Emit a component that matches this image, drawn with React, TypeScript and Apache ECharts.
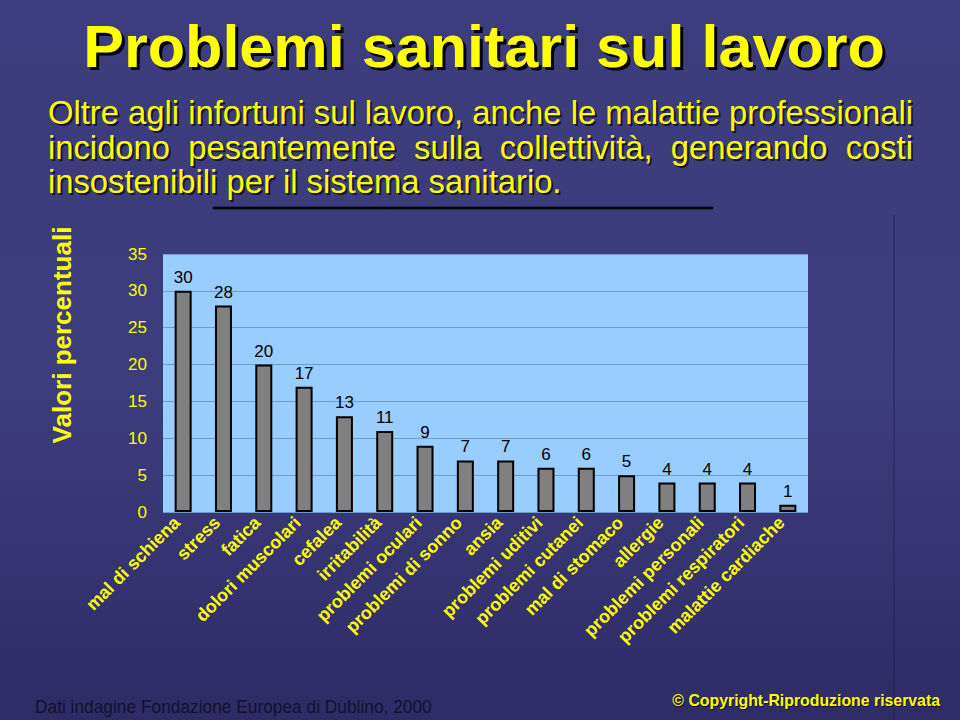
import React, { useEffect, useRef } from "react";
import * as echarts from "echarts";

const categories = [
  "mal di schiena", "stress", "fatica", "dolori muscolari", "cefalea", "irritabilità",
  "problemi oculari", "problemi di sonno", "ansia", "problemi uditivi", "problemi cutanei",
  "mal di stomaco", "allergie", "problemi personali", "problemi respiratori", "malattie cardiache",
];
const values = [30, 28, 20, 17, 13, 11, 9, 7, 7, 6, 6, 5, 4, 4, 4, 1];
const yMin = 0;
const yMax = 35;
const yStep = 5;

const titleText = "Problemi sanitari sul lavoro";
const subtitleLines = [
  "Oltre agli infortuni sul lavoro, anche le malattie professionali",
  "incidono pesantemente sulla collettività, generando costi",
  "insostenibili per il sistema sanitario.",
];
const yAxisTitle = "Valori percentuali";
const sourceNote = "Dati indagine Fondazione Europea di Dublino, 2000";
const copyrightNote = "© Copyright-Riproduzione riservata";

const FAMILY = '"Liberation Sans", Arial, Helvetica, sans-serif';
const YELLOW = "#ffff00";

function measure(text: string, font: string): number {
  const c = document.createElement("canvas").getContext("2d")!;
  c.font = font;
  return c.measureText(text).width;
}

function shadowText(
  text: string, x: number, y: number, size: number, weight: string, fill: string,
  scaleX: number, align: string, shadow: number, shadowColor: string
): any[] {
  const base = (dx: number, dy: number, color: string) => ({
    type: "text", x: x + dx, y: y + dy, scaleX, silent: true,
    style: {
      text, fill: color, fontSize: size, fontWeight: weight, fontFamily: FAMILY,
      align, verticalAlign: "middle", textAlign: align, textVerticalAlign: "middle",
    },
  });
  const out: any[] = [];
  if (shadow) out.push(base(shadow, shadow, shadowColor));
  out.push(base(0, 0, fill));
  return out;
}

function buildGraphics(): any[] {
  const g: any[] = [];
  // Title
  const tSize = 60;
  const tW = measure(titleText, `bold ${tSize}px ${FAMILY}`);
  const tScale = 802 / tW;
  g.push(...shadowText(titleText, 484, 46, tSize, "bold", YELLOW, tScale, "center", 3, "#000000"));

  // Subtitle (justified)
  const sSize = 34;
  const sFont = `${sSize}px ${FAMILY}`;
  const left = 48;
  const target = 865;
  const sScale = target / measure(subtitleLines[0], sFont);
  const spaceW = measure(" ", sFont) * sScale;
  const ys = [112, 147, 181];
  subtitleLines.forEach((line, li) => {
    const words = line.split(" ");
    const widths = words.map((w) => measure(w, sFont) * sScale);
    const sum = widths.reduce((a, b) => a + b, 0);
    const gap = li < 2 ? (target - sum) / (words.length - 1) : spaceW;
    let x = left;
    words.forEach((w, i) => {
      g.push(...shadowText(w, x, ys[li], sSize, "normal", YELLOW, sScale, "left", 2, "#15152a"));
      x += widths[i] + gap;
    });
  });

  // Rule under subtitle
  g.push({
    type: "line", silent: true,
    shape: { x1: 213, y1: 208, x2: 713, y2: 208 },
    style: { stroke: "#000000", lineWidth: 2.5 },
  });

  // Vertical axis title
  g.push({
    type: "text", x: 62, y: 335, rotation: Math.PI / 2, silent: true,
    style: {
      text: yAxisTitle, fill: YELLOW, fontSize: 26, fontWeight: "bold", fontFamily: FAMILY,
      align: "center", verticalAlign: "middle", textAlign: "center", textVerticalAlign: "middle",
    },
  });

  // Faint frame line
  g.push({
    type: "line", silent: true,
    shape: { x1: 894, y1: 215, x2: 894, y2: 720 },
    style: { stroke: "rgba(30,28,70,0.7)", lineWidth: 1 },
  });

  // Footer
  const fSize = 18;
  const fScale = 397 / measure(sourceNote, `${fSize}px ${FAMILY}`);
  g.push(...shadowText(sourceNote, 35, 707, fSize, "normal", "#13112c", fScale, "left", 0, ""));
  const cSize = 16;
  const cScale = 268 / measure(copyrightNote, `bold ${cSize}px ${FAMILY}`);
  g.push(...shadowText(copyrightNote, 940, 700, cSize, "bold", YELLOW, cScale, "right", 1, "#111122"));
  return g;
}

export default function App() {
  const ref = useRef<HTMLDivElement>(null);
  useEffect(() => {
    if (!ref.current) return;
    const chart = echarts.init(ref.current, null, { renderer: "svg" });
    chart.setOption({
      animation: false,
      backgroundColor: {
        type: "linear", x: 0, y: 0, x2: 0, y2: 1,
        colorStops: [
          { offset: 0, color: "#3c3c7e" },
          { offset: 0.55, color: "#3d3c7c" },
          { offset: 1, color: "#2e2b66" },
        ],
      },
      grid: {
        left: 163, top: 254, width: 645, height: 258,
        show: true, backgroundColor: "#99ccff", borderWidth: 0,
      },
      xAxis: {
        type: "category",
        data: categories,
        axisLine: { show: false },
        axisTick: { show: false },
        axisLabel: {
          interval: 0, rotate: 45, margin: 14, verticalAlign: "bottom",
          color: YELLOW, fontSize: 18, fontWeight: "bold", fontFamily: FAMILY,
        },
      },
      yAxis: {
        type: "value",
        min: yMin, max: yMax, interval: yStep,
        axisLine: { show: false },
        axisTick: { show: false },
        axisLabel: { color: YELLOW, fontSize: 17, fontFamily: FAMILY, margin: 16 },
        splitLine: { lineStyle: { color: "#6f9ccc", width: 1 } },
      },
      series: [
        {
          type: "bar",
          data: values,
          barWidth: 17,
          itemStyle: { color: "#808080", borderColor: "#000000", borderWidth: 2 },
          label: {
            show: true, position: "top", distance: 5,
            color: "#000000", fontSize: 17, fontFamily: FAMILY,
          },
        },
      ],
      graphic: buildGraphics(),
    });
    return () => chart.dispose();
  }, []);
  return (
    <div
      ref={ref}
      style={{ position: "fixed", left: 0, top: 0, width: 960, height: 720 }}
    />
  );
}
